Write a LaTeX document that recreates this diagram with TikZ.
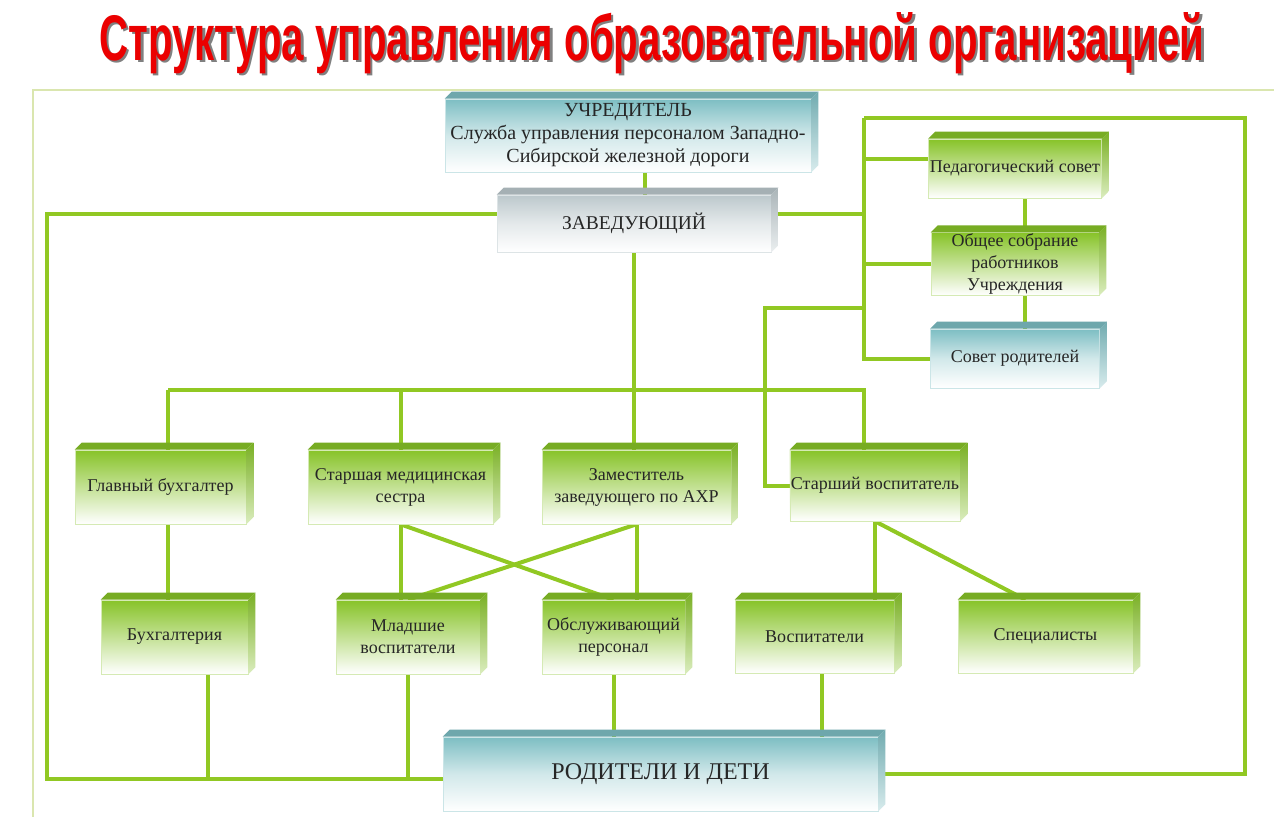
\documentclass[tikz,border=0pt]{standalone}
\usepackage{fontspec}
\setmainfont{Liberation Serif}
\newfontfamily\titlefont{Liberation Sans}
\usetikzlibrary{backgrounds}
\definecolor{ln}{RGB}{145,200,35}
\definecolor{gr}{RGB}{135,195,40}
\definecolor{tl}{RGB}{125,190,195}
\definecolor{gy}{RGB}{188,200,204}
\definecolor{frm}{RGB}{218,230,175}
\definecolor{ttl}{RGB}{235,0,0}

\begin{document}
\begin{tikzpicture}[x=1pt,y=-1pt,
    con/.style={draw=ln,line width=4pt},
    blk/.style 2 args={minimum width=#1pt,minimum height=#2pt}]
\tikzset{every node/.style={align=center,inner sep=1pt,text=black!85,
                            font=\fontsize{18}{22}\selectfont}}
\tikzset{gbox/.style={shading=axis,top color=gr,middle color=gr!30!white,
                      bottom color=white,draw=gr!35,line width=0.6pt},
         tbox/.style={gbox,top color=tl,middle color=tl!35!white,draw=tl!40},
         ybox/.style={gbox,top color=gy,middle color=gy!40!white,draw=gy!50}}
\useasboundingbox (0,0) rectangle (1274,817);
% title
\node[anchor=base,text=black!50,font=\titlefont\bfseries\fontsize{40}{44}\selectfont] (ttlshadow) at (654.5,62.5)
    {\resizebox{1105pt}{48pt}{Структура управления образовательной организацией}};
\node[anchor=base,text=ttl,font=\titlefont\bfseries\fontsize{40}{44}\selectfont] (ttl) at (652,60)
    {\resizebox{1105pt}{48pt}{Структура управления образовательной организацией}};
\draw[frm,line width=1.5pt] (1274,90) -- (33,90) -- (33,817);
% top
\node[tbox,blk={366}{73},font=\fontsize{20}{23}\selectfont] (uch) at (628,135.5)
    {УЧРЕДИТЕЛЬ\\Служба управления персоналом Западно-\\Сибирской железной дороги};
\node[ybox,blk={274}{57},font=\fontsize{19.5}{22}\selectfont] (zav) at (634,223.5) {ЗАВЕДУЮЩИЙ};
% councils
\node[gbox,blk={173}{59}] (ped) at (1015,168.5) {Педагогический совет};
\node[gbox,blk={168}{60}] (obs) at (1015,264) {Общее собрание\\работников\\Учреждения};
\node[tbox,blk={169}{59}] (sov) at (1015,358.5) {Совет родителей};
% second row
\node[gbox,blk={171}{74}] (glb) at (160.5,487) {Главный бухгалтер};
\node[gbox,blk={185}{74}] (med) at (400.5,487) {Старшая медицинская\\сестра};
\node[gbox,blk={189}{74}] (zam) at (636.5,487) {Заместитель\\заведующего по АХР};
\node[gbox,blk={170}{71}] (stv) at (875,485.5) {Старший воспитатель};
% third row
\node[gbox,blk={147}{74}] (buhg) at (174.5,637) {Бухгалтерия};
\node[gbox,blk={144}{74}] (mlv) at (408,637) {Младшие\\воспитатели};
\node[gbox,blk={143}{74}] (obp) at (613.5,637) {Обслуживающий\\персонал};
\node[gbox,blk={159}{73}] (vos) at (814.5,636.5) {Воспитатели};
\node[gbox,blk={175}{73}] (spe) at (1045.5,636.5) {Специалисты};
% bottom
\node[tbox,blk={435}{74},font=\fontsize{24}{27}\selectfont] (rod) at (660.5,774) {РОДИТЕЛИ И ДЕТИ};
% box depth
\foreach \n/\c in {uch/tl,zav/gy,ped/gr,obs/gr,sov/tl,glb/gr,med/gr,zam/gr,stv/gr,
                   buhg/gr,mlv/gr,obp/gr,vos/gr,spe/gr,rod/tl}{
  \fill[\c!88!black] (\n.north west) -- ++(7,-7) -- ([shift={(7,-7)}]\n.north east) -- (\n.north east) -- cycle;
  \shade[top color=\c!90!black,bottom color=\c!30!white] (\n.north east) -- ++(7,-7)
      -- ([shift={(7,-7)}]\n.south east) -- (\n.south east) -- cycle;
}
\coordinate (vbT) at (864,118);
\coordinate (rt) at (1245,118);
\coordinate (hbL) at (168,390);
\coordinate (hbR) at (864,390);
\coordinate (ls) at (765,308);
\coordinate (lx) at (47,0);
\coordinate (uz) at ([xshift=11pt]zav.north);
\coordinate (zr) at ([yshift=10pt]zav.east);
\coordinate (zl) at ([yshift=10pt]zav.west);
\coordinate (lb) at ([yshift=-5pt]rod.west);
\coordinate (bd) at ([xshift=33pt]buhg.south);
\coordinate (co) at ([xshift=10pt]obs.center);
\begin{pgfonlayer}{background}
\fill[white] (0,0) rectangle (1274,817);
\draw[con] (uz) -- (uz |- uch.south);
\draw[con] (zav.south) -- (zav.south |- zam.north);
% right bus
\draw[con] (zr) -- (zr -| vbT);
\draw[con] (vbT) -- (vbT |- sov.west) -- (sov.west);
\draw[con] (vbT) -- (rt) |- (rod.east);
\draw[con] ([yshift=10pt]ped.west) -- ([yshift=10pt]ped.west -| vbT);
\draw[con] (obs.west) -- (obs.west -| vbT);
\draw[con] (ls -| vbT) -- (ls) |- (stv.west);
\draw[con] (co |- ped.south) -- (co |- sov.north);
% middle bus
\draw[con] (hbL) -- (hbR) -- (hbR |- stv.north);
\draw[con] (hbL) -- (hbL |- glb.north);
\draw[con] (med.north) -- (med.north |- hbR);
\draw[con] (glb.south -| hbL) -- (buhg.north -| hbL);
\draw[con] (med.south) -- (med.south |- mlv.north);
\draw[con] (med.south) -- (obp.north);
\draw[con] (zam.south) -- (zam.south |- obp.north);
\draw[con] (zam.south) -- (mlv.north);
\draw[con] (stv.south) -- (stv.south |- vos.north);
\draw[con] (stv.south) -- ([xshift=-20pt]spe.north);
% left bus
\draw[con] (zl) -- (zl -| lx) -- (lx |- lb) -- (lb);
\draw[con] (bd) -- (bd |- lb);
\draw[con] (mlv.south) -- (mlv.south |- lb);
\draw[con] (obp.south) -- (obp.south |- rod.north);
\draw[con] ([xshift=7pt]vos.south) -- ([xshift=7pt]vos.south |- rod.north);
\end{pgfonlayer}
\end{tikzpicture}
\end{document}
